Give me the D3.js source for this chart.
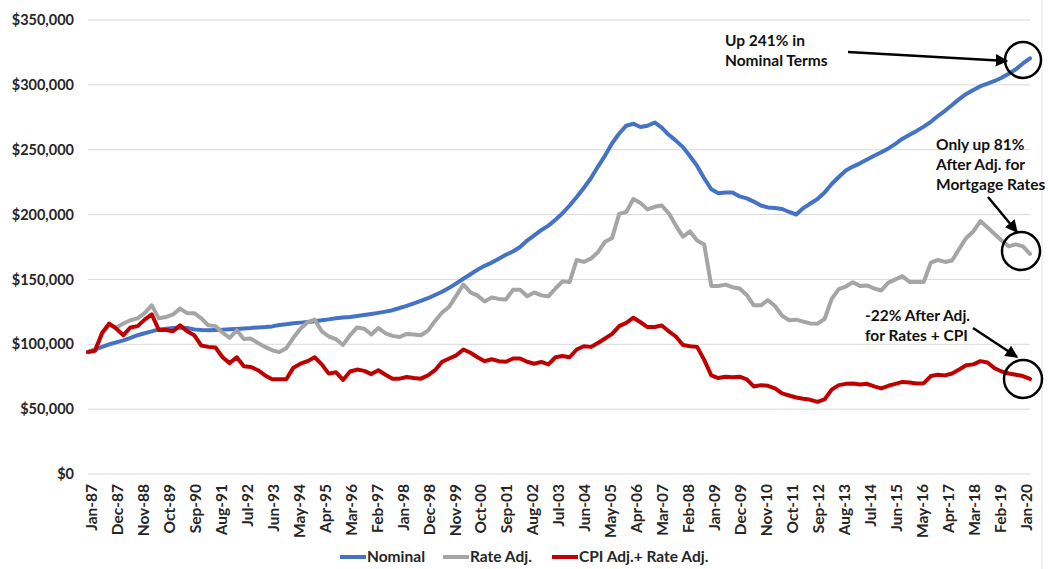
<!DOCTYPE html>
<html><head><meta charset="utf-8">
<script src="https://cdn.jsdelivr.net/npm/d3@7"></script>
<style>
body{margin:0;background:#fff;}
svg{display:block;font-family:Lato,"Open Sans",sans-serif;font-weight:700;}
</style></head>
<body><svg id="chart" width="1048" height="569"></svg>
<script>
// ---------- DATA (values in $ thousands, quarterly: Jan, Apr, Jul, Oct) ----------
const monthNames = ["Jan","Feb","Mar","Apr","May","Jun","Jul","Aug","Sep","Oct","Nov","Dec"];
const startYear = 1987, monthCount = 400; // Jan-87 .. Apr-20
const tickLabels = ["Jan-87","Dec-87","Nov-88","Oct-89","Sep-90","Aug-91","Jul-92","Jun-93","May-94","Apr-95","Mar-96","Feb-97","Jan-98","Dec-98","Nov-99","Oct-00","Sep-01","Aug-02","Jul-03","Jun-04","May-05","Apr-06","Mar-07","Feb-08","Jan-09","Dec-09","Nov-10","Oct-11","Sep-12","Aug-13","Jul-14","Jun-15","May-16","Apr-17","Mar-18","Feb-19","Jan-20"];
const yTicks = [0,50,100,150,200,250,300,350];

const nominal = [
 94,96,98,100, 101.5,103,105,107, 108.5,110,111.5,112, 112.5,113,112.5,111.5,
 111,110.8,111,111.3, 111.5,111.8,112.2,112.5, 113,113.3,113.8,114.8, 115.5,116.2,116.7,117.2,
 117.8,118.5,119.2,120, 120.6,121,121.8,122.5, 123.3,124.2,125.2,126.3, 128,129.6,131.5,133.5,
 135.5,138,140.5,143.5, 147,150.5,154,157.5, 160.5,163,166,169, 171.5,175,180,184,
 188,191.5,196,201, 207,213.5,220.5,228, 237,245.5,255,262.5, 268.5,270,267.5,268.5,
 271,267,261.5,257, 252,245,237.5,228, 219.5,216.5,217,217, 214,212.5,210,207,
 205.5,205,204.3,202, 200,205,208.5,212, 217,223.6,229,234, 237,239.5,242.5,245.3,
 248,251,254.5,258.5, 261.5,264.5,267.8,271.5, 276,280,284.5,289, 293,296,299,301,
 303,305.5,308.5,312, 316.5,320.5];
const rateAdj = [
 94,96,108,115, 113,116,118.5,120, 124,130,120,121, 123,127.5,124,124,
 120,114.6,114,109, 105,110.8,104,104.4, 101,98,95.4,94, 97,105,112,117,
 119,110,106,104, 99.5,107,113,112, 107.5,112.5,108.5,106.5, 105.6,108,107.5,107,
 110.5,118,124.5,129, 137.5,146,140,137.5, 133,136,135,134.5, 142,142,137,140,
 137.7,137,143,148.5, 148,165,163.5,166, 171,179,182,200.5, 202,212,209,204,
 206,207,201,191.5, 183,187,180,177, 145,145,146,144, 143,138,130,130,
 134,129.5,122,118.5, 119,117.5,116,115.9, 119.5,135,142.5,144.5, 147.9,145,145.4,143,
 141.5,147.5,150,152.5, 148,148,148,163, 165,163.5,164.6,173.5, 182,187,195,190,
 185,180,175.5,177, 175.5,169.7];
const cpiRateAdj = [
 94,95,109,116, 112,107,113,114, 119,123,111,111, 110,114.6,110,107,
 99,98,97.5,90, 85.5,90,83,82.5, 80,76,73,73, 73,82,85,87,
 90,84.5,77.4,78.5, 72.5,79,80.5,79.5, 77,80,76.5,73.5, 73.5,74.8,74,73.5,
 76,80,86.5,89, 91.5,96,93.5,90, 87,88.5,87,86.5, 89,89,86.5,85,
 86.4,84.5,90,91, 90,96,98.5,98, 101,104.5,108,114, 116.5,120.5,117,113.3,
 113.3,114.5,110,106, 99.5,98.5,98,88, 76,74,75,74.5, 75,73,67.5,68.5,
 68,66,62.1,60.5, 59,58,57.2,55.6, 57.5,65,68.5,69.5, 69.7,69,69.5,67.5,
 66,68,69.5,71, 70.5,69.7,70,75.5, 76.5,76,77.5,80.5, 83.8,84.5,87,86,
 81.5,79,77.5,76.5, 75.5,73.3];

const seriesNames = ["Nominal","Rate Adj.","CPI Adj.+ Rate Adj."];
const seriesColors = ["#4472C4","#A5A5A5","#C00000"];
const annotations = [
 {lines:["Up 241% in","Nominal Terms"], x:725, y:46, from:[848,52], to:[1007,61], circle:[1023,60,18]},
 {lines:["Only up 81%","After Adj. for","Mortgage Rates"], x:936, y:150, from:[988,197], to:[1017,232], circle:[1021,251,19]},
 {lines:["-22% After Adj.","for Rates + CPI"], x:865, y:321, from:[973,328], to:[1017,357], circle:[1023,379,19]}
];

// ---------- BUILD ----------
const months = d3.range(monthCount).map(i => monthNames[i % 12] + "-" + String((startYear + Math.floor(i / 12)) % 100).padStart(2, "0"));
const svg = d3.select("#chart");
const plotL = 88, plotR = 1030, plotT = 20, plotB = 474;
const x = d3.scalePoint().domain(months).range([plotL, plotR]);
const y = d3.scaleLinear().domain([0, 350]).range([plotB, plotT]);

// faint frame line at right
svg.append("line").attr("x1",1042).attr("x2",1042).attr("y1",0).attr("y2",569).attr("stroke","#e4e4e4").attr("stroke-width",1);

// gridlines
svg.append("g").selectAll("line").data(yTicks).join("line")
  .attr("x1", plotL).attr("x2", plotR)
  .attr("y1", d => y(d)).attr("y2", d => y(d))
  .attr("stroke", "#d9d9d9").attr("stroke-width", 1);

// y axis labels
const yAxis = d3.axisLeft(y).tickValues(yTicks).tickSize(0).tickPadding(0)
  .tickFormat(d => "$" + d3.format(",")(d * 1000));
const gy = svg.append("g").attr("transform", "translate(74,0)").call(yAxis);
gy.select(".domain").remove();
gy.selectAll("text").attr("fill","#262626").style("font-size","14.5px").style("font-family","Lato").style("font-weight","700");

// x axis labels
const xAxis = d3.axisBottom(x).tickValues(tickLabels).tickSize(0).tickPadding(0);
const gx = svg.append("g").attr("transform", `translate(0,${plotB})`).call(xAxis);
gx.select(".domain").remove();
gx.selectAll("text")
  .attr("fill","#262626").style("font-size","15.5px").style("font-family","Lato").style("font-weight","700")
  .attr("text-anchor","end").attr("y",0).attr("dy","0.35em")
  .attr("transform","translate(3,10) rotate(-90)");

// lines
const allSeries = [nominal, rateAdj, cpiRateAdj];
const line = d3.line().x((d, i) => x(months[i * 3])).y(d => y(d));
allSeries.forEach((s, k) => {
  svg.append("path").datum(s).attr("d", line)
    .attr("fill","none").attr("stroke", seriesColors[k]).attr("stroke-width", 4)
    .attr("stroke-linejoin","round").attr("stroke-linecap","round");
});

// annotations
svg.append("defs").append("marker").attr("id","arr").attr("viewBox","0 0 10 10")
  .attr("refX",9).attr("refY",5).attr("markerWidth",5).attr("markerHeight",5)
  .attr("markerUnits","strokeWidth").attr("orient","auto")
  .append("path").attr("d","M0,0 L10,5 L0,10 z").attr("fill","#000");
annotations.forEach(a => {
  const t = svg.append("text").attr("x", a.x).attr("y", a.y)
    .attr("fill","#111").style("font-size","15.5px").style("font-family","Lato").style("font-weight","700");
  a.lines.forEach((l, i) => t.append("tspan").attr("x", a.x).attr("dy", i ? 20 : 0).text(l));
  svg.append("line").attr("x1", a.from[0]).attr("y1", a.from[1]).attr("x2", a.to[0]).attr("y2", a.to[1])
    .attr("stroke","#000").attr("stroke-width",2.5).attr("marker-end","url(#arr)");
  svg.append("circle").attr("cx", a.circle[0]).attr("cy", a.circle[1]).attr("r", a.circle[2])
    .attr("fill","none").attr("stroke","#000").attr("stroke-width",2.5);
});

// legend
const legendX = [340, 443, 552];
const lg = svg.append("g");
seriesNames.forEach((n, k) => {
  lg.append("line").attr("x1", legendX[k]).attr("x2", legendX[k] + 26).attr("y1", 557).attr("y2", 557)
    .attr("stroke", seriesColors[k]).attr("stroke-width", 4);
  lg.append("text").attr("x", legendX[k] + 27).attr("y", 557).attr("dy","0.35em")
    .attr("fill","#262626").style("font-size","15.5px").style("font-family","Lato").style("font-weight","700").text(n);
});
</script></body></html>
